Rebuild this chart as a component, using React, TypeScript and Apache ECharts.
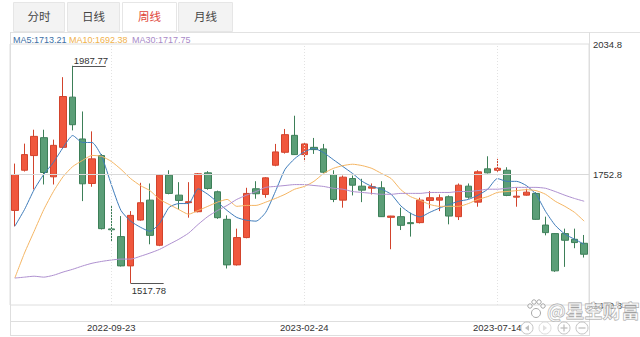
import React, { useEffect, useRef } from 'react';
import * as echarts from 'echarts';

const dates = [
  '2022-07-15','2022-07-22','2022-07-29','2022-08-05','2022-08-12','2022-08-19','2022-08-26','2022-09-02','2022-09-09','2022-09-16',
  '2022-09-23','2022-09-30','2022-10-14','2022-10-21','2022-10-28','2022-11-04','2022-11-11','2022-11-18','2022-11-25','2022-12-02',
  '2022-12-09','2022-12-16','2022-12-23','2022-12-30','2023-01-06','2023-01-13','2023-01-20','2023-02-03','2023-02-10','2023-02-17',
  '2023-02-24','2023-03-03','2023-03-10','2023-03-17','2023-03-24','2023-03-31','2023-04-07','2023-04-14','2023-04-21','2023-04-28',
  '2023-05-05','2023-05-12','2023-05-19','2023-05-26','2023-06-02','2023-06-09','2023-06-16','2023-06-21','2023-06-30','2023-07-07',
  '2023-07-14','2023-07-21','2023-07-28','2023-08-04','2023-08-11','2023-08-18','2023-08-25','2023-09-01','2023-09-08','2023-09-15',
];

const opens = [
  1675.2,1762.0,1793.7,1832.4,1747.8,1811.5,1920.0,1829.6,1733.4,1793.7,
  1635.2,1618.6,1555.3,1654.4,1697.4,1599.9,1751.3,1708.2,1692.0,1672.4,
  1756.4,1715.5,1655.9,1557.5,1616.5,1722.0,1709.7,1772.8,1800.8,1837.4,
  1795.8,1811.5,1808.1,1752.8,1697.4,1744.1,1727.6,1723.3,1724.1,1660.2,
  1661.7,1648.8,1648.8,1696.8,1697.4,1704.7,1661.7,1727.6,1693.1,1765.0,
  1762.0,1762.0,1703.9,1708.2,1711.9,1643.6,1625.1,1625.1,1612.8,1604.2,
];
const closes = [
  1752.8,1795.8,1835.2,1757.1,1815.8,1921.3,1860.4,1732.7,1786.6,1635.8,
  1633.4,1555.3,1664.5,1691.8,1621.3,1751.3,1711.9,1696.8,1694.0,1754.3,
  1722.6,1659.5,1557.5,1616.5,1711.9,1711.2,1745.6,1801.6,1838.9,1795.8,
  1818.9,1806.6,1757.7,1698.9,1747.0,1729.7,1719.0,1726.3,1661.7,1663.0,
  1643.0,1646.6,1697.4,1702.6,1702.6,1663.0,1729.7,1703.9,1758.6,1756.4,
  1766.3,1707.6,1706.0,1714.6,1655.9,1627.2,1544.6,1610.7,1605.7,1580.5,
];
const lows = [
  1640.8,1759.2,1720.5,1731.2,1731.2,1809.0,1848.1,1695.3,1726.3,1634.0,
  1607.0,1554.0,1517.78,1653.0,1602.0,1598.0,1710.0,1677.4,1659.5,1671.0,
  1720.0,1657.0,1549.7,1556.0,1615.0,1700.4,1702.6,1770.6,1798.0,1795.0,
  1781.4,1797.3,1756.0,1693.1,1681.1,1707.6,1693.1,1709.7,1661.0,1591.3,
  1632.8,1618.6,1647.0,1679.5,1673.7,1645.1,1654.4,1700.4,1683.2,1755.0,
  1758.6,1706.0,1683.2,1707.0,1655.0,1621.3,1542.4,1553.2,1593.5,1573.4,
];
const highs = [
  1776.4,1819.5,1849.6,1849.6,1828.1,1963.1,1987.77,1889.0,1846.0,1797.0,
  1686.0,1663.0,1673.7,1734.9,1733.4,1753.0,1762.0,1736.2,1736.2,1756.0,
  1760.0,1718.0,1664.5,1635.8,1724.1,1738.3,1747.0,1818.9,1851.2,1879.8,
  1822.3,1831.8,1818.9,1762.0,1750.6,1750.6,1743.5,1733.4,1738.3,1663.5,
  1681.1,1670.3,1702.6,1716.8,1709.7,1707.6,1733.4,1733.4,1762.0,1792.2,
  1786.6,1768.5,1724.1,1722.0,1714.6,1661.7,1626.0,1635.8,1635.8,1622.1,
];

const ma5 = [
  1641,1677,1720,1753,1779,1811,1837,1822,1822,1792,
  1731,1675,1652,1639,1630,1647,1682,1690,1690,1722,
  1710,1693,1675,1660,1654,1652,1671,1716,1764,1787,
  1802,1809,1800,1785,1770,1755,1738,1727,1721,1710,
  1685,1669,1661,1671,1680,1688,1695,1699,1708,1721,
  1744,1738,1738,1729,1710,1673,1643,1624,1613,1602,
];
const ma10 = [
  1529,1583,1630,1677,1716,1748,1770,1783,1794,1792,
  1781,1764,1744,1729,1718,1699,1688,1677,1667,1675,
  1684,1693,1699,1684,1686,1686,1693,1701,1710,1721,
  1727,1738,1755,1766,1772,1775,1772,1766,1755,1744,
  1720,1705,1697,1688,1684,1684,1684,1690,1699,1705,
  1714,1716,1718,1720,1718,1710,1695,1684,1671,1652,
];
const ma30 = [
  1529,1531,1533,1531,1535,1542,1548,1555,1561,1565,
  1568,1570,1570,1576,1583,1591,1602,1613,1626,1645,
  1662,1675,1686,1699,1708,1716,1725,1727,1729,1731,
  1731,1729,1727,1723,1721,1716,1714,1712,1710,1710,
  1712,1712,1712,1714,1714,1714,1716,1716,1718,1721,
  1721,1723,1725,1725,1725,1723,1716,1708,1701,1695,
];

const tabs = ['分时', '日线', '周线', '月线'];
const activeTab = '周线';
const yTicks = [1470.8, 1752.8, 2034.8];
const xLabelDates = ['2022-09-23', '2023-02-24', '2023-07-14'];
const legendNames = ['MA5', 'MA10', 'MA30'];
const legendValues = ['1713.21', '1692.38', '1717.75'];

const FONT = '"Liberation Sans", Arial, sans-serif';
const CJK = '"Noto Sans CJK SC", sans-serif';
const MA_COLORS = ['#3f7cba', '#f4b563', '#ae90cf'];
const LEGEND_COLORS = ['#3d6fa6', '#f1b24c', '#a98bc8'];

export default function App() {
  const ref = useRef<HTMLDivElement>(null);

  useEffect(() => {
    const chart = echarts.init(ref.current!, null, { renderer: 'svg' });
    const candleData = dates.map((_, i) => [opens[i], closes[i], lows[i], highs[i]]);

    chart.setOption({
      animation: false,
      grid: { left: 10, right: 51, top: 44, bottom: 32, show: true, borderColor: '#dedede', borderWidth: 1 },
      xAxis: {
        type: 'category',
        data: dates,
        boundaryGap: true,
        axisLine: { show: false },
        axisTick: { show: false },
        splitLine: { show: false },
        axisLabel: {
          interval: (_i: number, v: string) => xLabelDates.includes(v),
          color: '#333',
          fontSize: 9.5,
          fontFamily: FONT,
          margin: 17,
        },
      },
      yAxis: {
        type: 'value',
        position: 'right',
        min: yTicks[0],
        max: yTicks[yTicks.length - 1],
        axisLine: { show: false },
        axisTick: { show: false },
        splitLine: { show: false },
        axisLabel: {
          customValues: yTicks,
          formatter: (v: number) => v.toFixed(1),
          color: '#333',
          fontSize: 9.5,
          fontFamily: FONT,
          margin: 4,
        },
      },
      series: [
        {
          type: 'candlestick',
          data: candleData,
          barWidth: 7,
          z: 2,
          itemStyle: {
            color: '#f0573d',
            color0: '#5b9e77',
            borderColor: '#d2432c',
            borderColor0: '#3d7f58',
            borderWidth: 1,
          },
          markLine: {
            silent: true,
            symbol: ['none', 'none'],
            label: { show: false },
            data: [
              { yAxis: yTicks[1], lineStyle: { color: '#d9d9d9', type: 'solid', width: 1 } },
              ...xLabelDates.map((d) => ({ xAxis: d, lineStyle: { color: '#e2e2e2', type: [1, 2], width: 1 } })),
            ],
          },
        },
        ...[ma5, ma10, ma30].map((d, k) => ({
          type: 'line',
          name: legendNames[k],
          data: d,
          showSymbol: false,
          smooth: 0.2,
          z: 3,
          lineStyle: { color: MA_COLORS[k], width: 1 },
          itemStyle: { color: MA_COLORS[k] },
        })),
      ],
    });

    const hiIdx = highs.indexOf(Math.max(...highs));
    const loIdx = lows.indexOf(Math.min(...lows));
    const hp = chart.convertToPixel({ gridIndex: 0 }, [dates[hiIdx], highs[hiIdx]]) as number[];
    const lp = chart.convertToPixel({ gridIndex: 0 }, [dates[loIdx], lows[loIdx]]) as number[];

    const tabBoxes = [
      { x: 13, w: 51 },
      { x: 67, w: 52 },
      { x: 122, w: 54 },
      { x: 178, w: 54 },
    ];
    const graphics: any[] = [];
    graphics.push({ type: 'line', shape: { x1: 10, y1: 32.5, x2: 640, y2: 32.5 }, style: { stroke: '#e2e2e2', lineWidth: 1 }, silent: true });
    tabs.forEach((t, i) => {
      const b = tabBoxes[i];
      const active = t === activeTab;
      graphics.push({
        type: 'rect',
        shape: { x: b.x + 0.5, y: 2.5, width: b.w, height: 29 },
        style: { fill: active ? '#ffffff' : '#f3f3f3', stroke: '#e6e6e6', lineWidth: 1 },
        silent: true,
      });
      graphics.push({
        type: 'text',
        x: b.x + b.w / 2 + 0.5,
        y: 16,
        style: {
          text: t,
          fill: active ? '#e0463b' : '#444',
          font: `11.5px ${CJK}`,
          align: 'center',
          verticalAlign: 'middle',
        },
        silent: true,
      });
    });
    const legendX = [13, 69, 132];
    legendNames.forEach((n, i) => {
      graphics.push({
        type: 'text',
        x: legendX[i],
        y: 39.5,
        style: {
          text: `${n}:${legendValues[i]}`,
          fill: LEGEND_COLORS[i],
          font: `9px ${FONT}`,
          verticalAlign: 'middle',
        },
        silent: true,
      });
    });
    // frame lines
    graphics.push({ type: 'line', shape: { x1: 10.5, y1: 32, x2: 10.5, y2: 335.5 }, style: { stroke: '#dedede', lineWidth: 1 }, silent: true });
    graphics.push({ type: 'line', shape: { x1: 589.5, y1: 32, x2: 589.5, y2: 335.5 }, style: { stroke: '#dedede', lineWidth: 1 }, silent: true });
    graphics.push({ type: 'line', shape: { x1: 10, y1: 321.5, x2: 590, y2: 321.5 }, style: { stroke: '#dedede', lineWidth: 1 }, silent: true });
    graphics.push({ type: 'line', shape: { x1: 10, y1: 335.5, x2: 590, y2: 335.5 }, style: { stroke: '#dedede', lineWidth: 1 }, silent: true });

    // high / low annotations
    const hy = Math.round(hp[1]) + 0.5;
    const ly = Math.round(lp[1]) + 0.5;
    graphics.push({ type: 'line', shape: { x1: hp[0], y1: hy, x2: hp[0] + 33, y2: hy }, style: { stroke: '#555', lineWidth: 1 }, silent: true, z: 10 });
    graphics.push({
      type: 'text', x: hp[0] + 1, y: hy - 1, z: 10, silent: true,
      style: { text: highs[hiIdx].toFixed(2), fill: '#333', font: `9.5px ${FONT}`, verticalAlign: 'bottom' },
    });
    graphics.push({ type: 'line', shape: { x1: lp[0], y1: ly, x2: lp[0] + 33, y2: ly }, style: { stroke: '#555', lineWidth: 1 }, silent: true, z: 10 });
    graphics.push({
      type: 'text', x: lp[0] + 1, y: ly + 2, z: 10, silent: true,
      style: { text: lows[loIdx].toFixed(2), fill: '#333', font: `9.5px ${FONT}`, verticalAlign: 'top' },
    });

    // zoom buttons
    const btnX = [527, 545, 564, 582];
    const by = 328;
    btnX.forEach((cx, i) => {
      graphics.push({ type: 'circle', shape: { cx, cy: by, r: 6 }, style: { fill: '#fff', stroke: i === 1 ? '#dddddd' : '#c4c4c4', lineWidth: 1 }, silent: true, z: 20 });
    });
    graphics.push({ type: 'polygon', shape: { points: [[525, by], [529, by - 3], [529, by + 3]] }, style: { fill: '#c0c0c0' }, silent: true, z: 21 });
    graphics.push({ type: 'polygon', shape: { points: [[547, by], [543, by - 3], [543, by + 3]] }, style: { fill: '#e0e0e0' }, silent: true, z: 21 });
    graphics.push({ type: 'line', shape: { x1: 560.5, y1: by, x2: 567.5, y2: by }, style: { stroke: '#bbb', lineWidth: 1.2 }, silent: true, z: 21 });
    graphics.push({ type: 'line', shape: { x1: 564, y1: by - 3.5, x2: 564, y2: by + 3.5 }, style: { stroke: '#bbb', lineWidth: 1.2 }, silent: true, z: 21 });
    graphics.push({ type: 'line', shape: { x1: 578.5, y1: by, x2: 585.5, y2: by }, style: { stroke: '#bbb', lineWidth: 1.2 }, silent: true, z: 21 });

    // watermark
    const paw = [
      { cx: 536, cy: 313, r: 4.5 },
      { cx: 530, cy: 306, r: 2.2 },
      { cx: 534, cy: 302, r: 2.2 },
      { cx: 539, cy: 302, r: 2.2 },
      { cx: 543, cy: 306, r: 2.2 },
    ];
    paw.forEach((p) => {
      graphics.push({ type: 'circle', shape: p, style: { fill: 'rgba(255,255,255,0.6)', stroke: '#a8a8a8', lineWidth: 1 }, silent: true, z: 30 });
    });
    graphics.push({
      type: 'text', x: 547, y: 310, z: 30, silent: true,
      style: {
        text: '@星空财富',
        font: `bold 18.5px ${CJK}`,
        fill: 'rgba(255,255,255,0.55)',
        stroke: '#a0a0a0',
        lineWidth: 0.8,
        verticalAlign: 'middle',
      },
    });

    chart.setOption({ graphic: graphics });

    return () => chart.dispose();
  }, []);

  return (
    <div
      ref={ref}
      style={{ position: 'fixed', left: 0, top: 0, width: 640, height: 337, background: '#ffffff' }}
    />
  );
}
